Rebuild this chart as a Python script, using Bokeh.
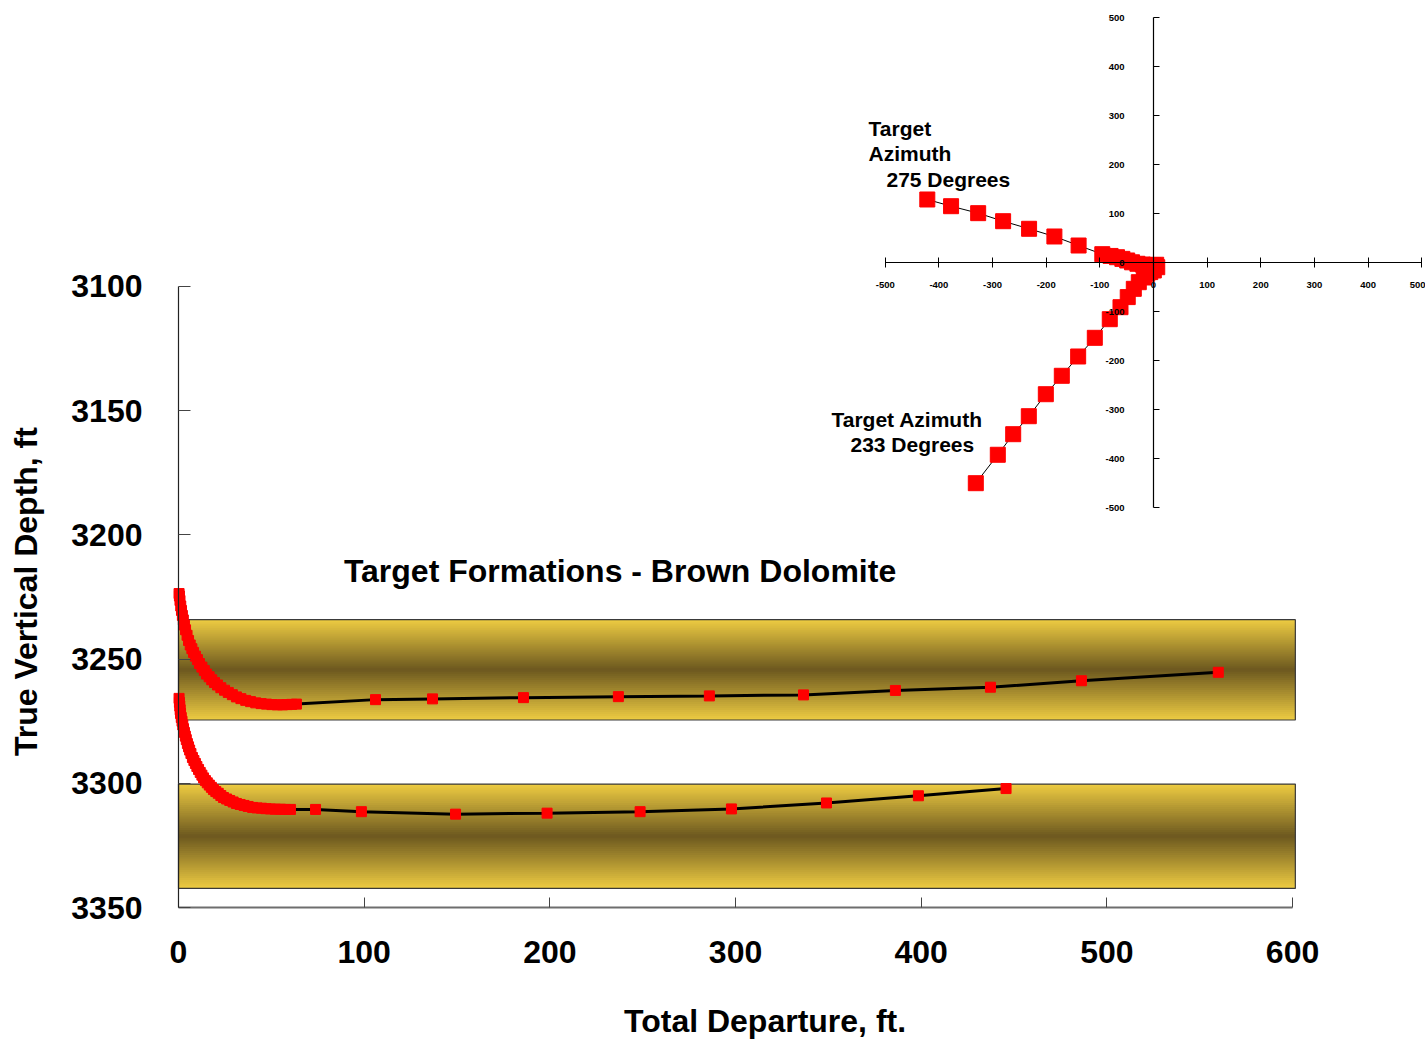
import math
from bokeh.plotting import figure
from bokeh.models import Range1d, LinearAxis, FixedTicker, Label, ColumnDataSource
from bokeh.embed import file_html
from bokeh.resources import INLINE

# ---------------- data ----------------
# Main chart: total departure (ft) vs true vertical depth (ft)
well1_x = [0.3, 0.5, 0.8, 1.2, 1.6, 2.1, 2.6, 3.2, 3.8, 4.6, 5.4, 6.3, 7.2, 8.1, 9.1,
           10.2, 11.3, 12.6, 13.9, 15.1, 16.5, 17.9, 19.4, 21.0, 22.8, 24.8, 26.8, 29.0,
           31.2, 33.6, 36.2, 38.8, 41.6, 44.5, 47.4, 50.3, 53.2, 56.0, 58.5, 61.0, 63.5,
           106.1, 136.8, 185.8, 236.9, 285.9, 336.6, 386.1, 437.3, 486.3, 560.0]
well1_tvd = [3223.6, 3224.6, 3226.4, 3228.6, 3230.4, 3232.4, 3234.2, 3236.3, 3238.2, 3240.4,
             3242.5, 3244.3, 3245.8, 3247.3, 3248.8, 3250.2, 3251.8, 3253.2, 3254.6, 3256.0,
             3257.1, 3258.3, 3259.4, 3260.4, 3261.5, 3262.5, 3263.4, 3264.3, 3265.2, 3265.9,
             3266.6, 3267.1, 3267.6, 3267.9, 3268.1, 3268.3, 3268.4, 3268.4, 3268.3, 3268.2,
             3268.1,
             3266.3, 3266.0, 3265.5, 3265.1, 3264.8, 3264.4, 3262.6, 3261.3, 3258.7, 3255.3]

well2_x = [0.3, 0.5, 0.7, 0.9, 1.1, 1.5, 1.9, 2.3, 2.7, 3.2, 3.7, 4.2, 4.8, 5.4, 6.0, 6.7,
           7.5, 8.3, 9.1, 9.9, 10.8, 11.7, 12.6, 13.5, 14.5, 15.5, 16.6, 17.7, 18.8, 20.1,
           21.4, 22.8, 24.2, 25.9, 27.6, 29.4, 31.2, 33.2, 35.3, 37.5, 39.9, 42.3, 44.7,
           47.1, 49.5, 52.2, 54.9, 57.6, 60.3,
           73.8, 98.5, 149.2, 198.5, 248.6, 297.8, 349.0, 398.5, 445.7]
well2_tvd = [3265.8, 3267.4, 3268.9, 3270.4, 3271.9, 3273.5, 3275.0, 3276.5, 3278.0, 3279.5,
             3281.0, 3282.4, 3284.0, 3285.3, 3286.6, 3288.0, 3289.6, 3290.8, 3292.0, 3293.2,
             3294.4, 3295.6, 3296.7, 3297.8, 3298.9, 3299.8, 3300.7, 3301.6, 3302.5, 3303.3,
             3304.0, 3304.9, 3305.7, 3306.3, 3306.9, 3307.5, 3308.1, 3308.5, 3308.9, 3309.3,
             3309.7, 3309.9, 3310.0, 3310.2, 3310.3, 3310.4, 3310.4, 3310.5, 3310.5,
             3310.5, 3311.4, 3312.4, 3312.0, 3311.4, 3310.3, 3307.9, 3305.0, 3302.1]

# Target formation (Brown Dolomite) bands
band_left = [0, 0]
band_right = [601.5, 601.5]
band_top = [3234.1, 3300.3]
band_bottom = [3274.5, 3342.3]

x_ticks = [0, 100, 200, 300, 400, 500, 600]
y_ticks = [3100, 3150, 3200, 3250, 3300, 3350]

# Inset plan view (E-W vs N-S, ft)
az275_x = [5, 0, -6, -12, -20, -30, -40, -49, -58, -68, -80, -95.4, -139.6, -184.7,
           -231.9, -280.3, -326.8, -377.3, -421.6]
az275_y = [-4, -5, -5.5, -5, -3.5, -2, 1, 4.7, 8, 11.4, 14, 17.6, 35.3, 53.7,
           69.4, 84.9, 101.3, 115.5, 129.2]
az233_x = [7, 0.6, -6, -11.7, -18, -27.4, -36.7, -48, -61.5, -81.5, -109.4, -140.4,
           -170.9, -200.7, -232.4, -261.5, -290.2, -331.2]
az233_y = [-9, -15.7, -19, -22.4, -30, -39.6, -53.1, -70, -90.6, -115.1, -153.1, -191.2,
           -230.6, -268.2, -313.1, -349.8, -391.8, -449.8]
inset_ticks = [-500, -400, -300, -200, -100, 0, 100, 200, 300, 400, 500]

FONT = "Liberation Sans"

# ---------------- figure (frame = whole canvas; axes placed with fixed_location) ----------------
p = figure(width=1425, height=1039,
           x_range=Range1d(-95.87, 671.6), y_range=Range1d(3403.1, 2984.9),
           output_backend="svg", toolbar_location=None,
           x_axis_location=None, y_axis_location=None,
           min_border_left=0, min_border_right=0, min_border_top=0,
           min_border_bottom=0)
p.outline_line_color = None
for g in p.grid:
    g.visible = False
p.background_fill_color = "white"
p.border_fill_color = "white"

p.extra_x_ranges = {"ix": Range1d(-2149.1, 507.0)}
p.extra_y_ranges = {"iy": Range1d(-1585.1, 535.3)}

# ---------------- bands with vertical gradient ----------------
light = (238, 204, 66)
dark = (108, 88, 31)
N = 50
for bl, br, bt, bb in zip(band_left, band_right, band_top, band_bottom):
    lefts, rights, tops, bottoms, colors = [], [], [], [], []
    for i in range(N):
        f0 = i / N
        f1 = min(1.0, (i + 1.6) / N)
        t = abs((i + 0.5) / N - 0.5) * 2
        c = tuple(int(round(d + (l - d) * t)) for l, d in zip(light, dark))
        lefts.append(bl)
        rights.append(br)
        tops.append(bt + (bb - bt) * f0)
        bottoms.append(bt + (bb - bt) * f1)
        colors.append("#%02x%02x%02x" % c)
    p.quad(left=lefts, right=rights, top=tops, bottom=bottoms,
           fill_color=colors, line_color=None)
p.quad(left=band_left, right=band_right, top=band_top, bottom=band_bottom,
       fill_color=None, line_color="#3a3a3a", line_width=1.2)

# ---------------- wells (main) ----------------
for xs, ys in ((well1_x, well1_tvd), (well2_x, well2_tvd)):
    src = ColumnDataSource(dict(x=xs, y=ys))
    p.line("x", "y", source=src, line_color="black", line_width=3)
    p.scatter("x", "y", source=src, marker="square", size=10,
              fill_color="#ff0000", line_color="#ff0000")

# ---------------- inset plan view ----------------
for xs, ys in ((az275_x, az275_y), (az233_x, az233_y)):
    src = ColumnDataSource(dict(x=xs, y=ys))
    p.line("x", "y", source=src, x_range_name="ix", y_range_name="iy",
           line_color="black", line_width=1)
    p.scatter("x", "y", source=src, x_range_name="ix", y_range_name="iy",
              marker="square", size=15, fill_color="#ff0000", line_color="#ff0000")

# ---------------- axes ----------------
xa = LinearAxis(fixed_location=3350, bounds=(0, 600), ticker=FixedTicker(ticks=x_ticks),
                axis_line_color="#6e6e6e", axis_line_width=2,
                major_tick_in=10, major_tick_out=0, minor_tick_line_color=None,
                major_tick_line_color="#444444",
                major_label_text_font=FONT, major_label_text_font_style="bold",
                major_label_text_font_size="32px", major_label_text_color="black",
                major_label_standoff=33)
p.add_layout(xa, "below")

ya = LinearAxis(fixed_location=0, bounds=(3100, 3350), ticker=FixedTicker(ticks=y_ticks),
                axis_line_color="#222222", axis_line_width=1.2,
                major_tick_in=12, major_tick_out=0, minor_tick_line_color=None,
                major_tick_line_color="#444444",
                major_label_text_font=FONT, major_label_text_font_style="bold",
                major_label_text_font_size="32px", major_label_text_color="black",
                major_label_standoff=36)
p.add_layout(ya, "left")

inset_overrides = {t: str(t) for t in inset_ticks}
ixa = LinearAxis(x_range_name="ix", y_range_name="iy", fixed_location=0,
                 bounds=(-500, 500), ticker=FixedTicker(ticks=inset_ticks),
                 major_label_overrides=inset_overrides,
                 axis_line_color="black", axis_line_width=1.2,
                 major_tick_in=5, major_tick_out=5, minor_tick_line_color=None,
                 major_label_text_font=FONT, major_label_text_font_style="bold",
                 major_label_text_font_size="9.5px", major_label_text_color="black",
                 major_label_text_align="right",
                 major_label_standoff=14)
p.add_layout(ixa, "below")

iya = LinearAxis(x_range_name="ix", y_range_name="iy", fixed_location=0,
                 bounds=(-500, 500), ticker=FixedTicker(ticks=inset_ticks),
                 major_label_overrides=inset_overrides,
                 axis_line_color="black", axis_line_width=1.2,
                 major_tick_in=6, major_tick_out=0, minor_tick_line_color=None,
                 major_label_text_font=FONT, major_label_text_font_style="bold",
                 major_label_text_font_size="9.5px", major_label_text_color="black",
                 major_label_text_baseline="bottom",
                 major_label_standoff=29)
p.add_layout(iya, "left")

# ---------------- titles / annotations ----------------
p.add_layout(Label(x=315.9, y=3395.5, text="Total Departure, ft.",
                   text_align="center", text_baseline="middle",
                   text_font=FONT, text_font_style="bold", text_font_size="32px",
                   text_color="black"))
p.add_layout(Label(x=-82.4, y=3222.8, text="True Vertical Depth, ft", angle=math.pi / 2,
                   text_align="center", text_baseline="middle",
                   text_font=FONT, text_font_style="bold", text_font_size="32px",
                   text_color="black"))

p.add_layout(Label(x=237.8, y=3214.7, text="Target Formations - Brown Dolomite",
                   text_align="center", text_baseline="middle",
                   text_font=FONT, text_font_style="bold", text_font_size="32px",
                   text_color="black"))

for txt, lx, ly in (("Target", -531.2, 274.1), ("Azimuth", -531.2, 223.1),
                    ("275 Degrees", -497.7, 170.0), ("Target Azimuth", -600.2, -319.8),
                    ("233 Degrees", -564.8, -370.8)):
    p.add_layout(Label(x=lx, y=ly, x_range_name="ix", y_range_name="iy", text=txt,
                       text_align="left", text_baseline="middle",
                       text_font=FONT, text_font_style="bold", text_font_size="21px",
                       text_color="black"))

open("out.html", "w").write(file_html(p, INLINE))
